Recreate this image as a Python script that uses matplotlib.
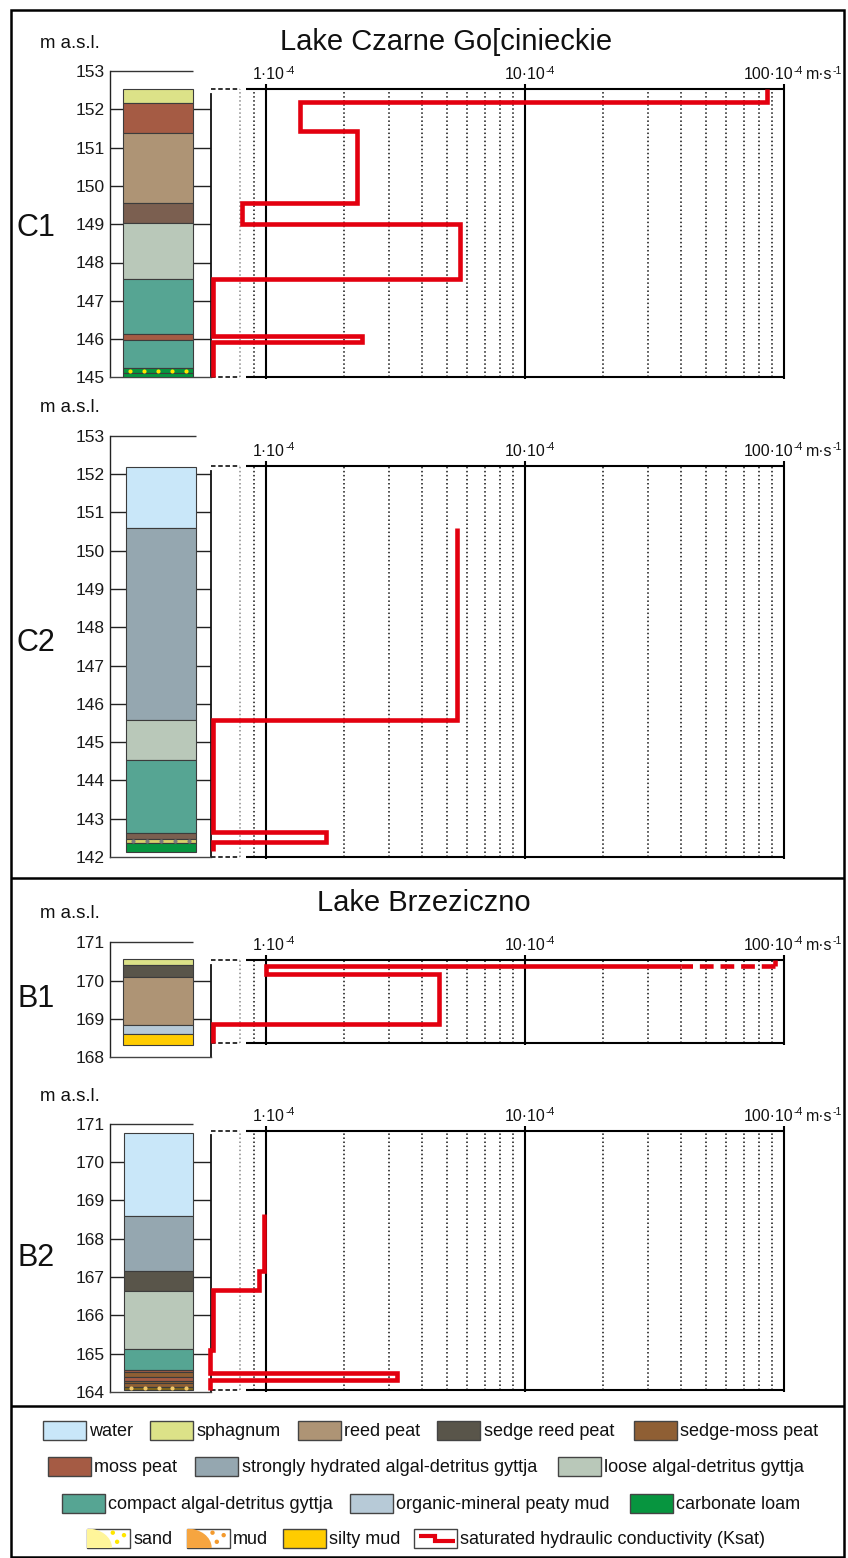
import numpy as np
import matplotlib
matplotlib.use('Agg')
import matplotlib.pyplot as plt
from matplotlib.patches import Rectangle, Ellipse, Circle

plt.rcParams['font.family'] = ['Liberation Sans', 'DejaVu Sans']

# ---------------- data ----------------
# lithology: boundaries (m a.s.l., top -> bottom) and type of each interval
C1_layer_bounds = [152.52, 152.16, 151.37, 149.55, 149.03, 147.57, 146.13, 145.98, 145.24, 145.11, 145.00]
C1_layer_types = ['sphagnum', 'moss peat', 'reed peat', 'dark peat', 'loose', 'compact',
                  'moss peat', 'compact', 'carbonate loam', 'carbonate loam']
C1_sand_lenses = [145.18]
# Ksat profile: depth boundaries and Ksat (x10^-4 m/s) of each interval
C1_ksat_depths = [152.52, 152.20, 151.44, 149.55, 149.00, 147.58, 146.09, 145.915, 145.00]
C1_ksat = [86.0, 1.36, 2.26, 0.815, 5.63, 0.625, 2.35, 0.625]

C2_layer_bounds = [152.17, 150.60, 145.59, 144.54, 142.63, 142.46, 142.36, 142.13]
C2_layer_types = ['water', 'strongly', 'loose', 'compact', 'dark peat', 'sand thin', 'carbonate loam']
C2_sand_lenses = [142.41]
C2_ksat_depths = [150.60, 145.57, 142.66, 142.38, 142.15]
C2_ksat = [5.47, 0.625, 1.71, 0.625]

B1_layer_bounds = [170.57, 170.40, 170.10, 168.83, 168.60, 168.33]
B1_layer_types = ['sphagnum', 'sedge reed', 'reed peat', 'organic-mineral', 'silty mud']
B1_sand_lenses = []
B1_ksat_depths = [170.54, 170.38, 170.16, 168.87, 168.37]
B1_ksat = [92.0, 1.0, 4.67, 0.625]
B1_ksat_dashed_to = 40.0

B2_layer_bounds = [170.76, 168.60, 167.15, 166.62, 165.13, 164.57, 164.51, 164.38, 164.29,
                   164.22, 164.13, 164.06]
B2_layer_types = ['water', 'strongly', 'sedge reed', 'loose', 'compact', 'moss peat', 'sedge-moss',
                  'moss peat', 'sedge-moss', 'sedge-moss', 'dark mud']
B2_sand_lenses = [164.095]
B2_ksat_depths = [168.63, 167.16, 166.66, 165.09, 164.49, 164.31, 164.04]
B2_ksat = [0.99, 0.94, 0.629, 0.611, 3.21, 0.611]

axis_ticks = [1, 10, 100]
# tick label pieces: (text, is_superscript)
axis_tick_labels = [
    [('1·10', False), ('-4', True)],
    [('10·10', False), ('-4', True)],
    [('100·10', False), ('-4', True), ('m·s', False), ('-1', True)],
]
minor_vals = [0.8, 0.9, 2, 3, 4, 5, 6, 7, 8, 9, 20, 30, 40, 50, 60, 70, 80, 90]

legend_rows = [
    ['water', 'sphagnum', 'reed peat', 'sedge reed peat', 'sedge-moss peat'],
    ['moss peat', 'strongly hydrated algal-detritus gyttja', 'loose algal-detritus gyttja'],
    ['compact algal-detritus gyttja', 'organic-mineral peaty mud', 'carbonate loam'],
    ['sand', 'mud', 'silty mud', 'saturated hydraulic conductivity (Ksat)'],
]

# ---------------- style ----------------
COLORS = {
    'water': '#C9E7F9', 'sphagnum': '#DCE288', 'reed peat': '#AE9475', 'sedge reed': '#59554A',
    'sedge-moss': '#8F5F34', 'moss peat': '#A55B44', 'strongly': '#95A7B0', 'loose': '#B9C8B9',
    'compact': '#56A593', 'organic-mineral': '#B7CAD7', 'carbonate loam': '#07953F',
    'sand': '#FFF59A', 'mud': '#F6A540', 'silty mud': '#FFCC00',
    'dark peat': '#7B5F50', 'sand thin': '#D8CF6C', 'dark mud': '#80661A',
}
LEG_COLORS = {
    'water': COLORS['water'], 'sphagnum': COLORS['sphagnum'], 'reed peat': COLORS['reed peat'],
    'sedge reed peat': COLORS['sedge reed'], 'sedge-moss peat': COLORS['sedge-moss'],
    'moss peat': COLORS['moss peat'], 'strongly hydrated algal-detritus gyttja': COLORS['strongly'],
    'loose algal-detritus gyttja': COLORS['loose'], 'compact algal-detritus gyttja': COLORS['compact'],
    'organic-mineral peaty mud': COLORS['organic-mineral'], 'carbonate loam': COLORS['carbonate loam'],
    'silty mud': COLORS['silty mud'],
}
RED = '#E3000F'
W, H = 848, 1558
PPM = 38.3
X_AX, X_SEP, X_END = 110, 211, 784
XMIN = 10 ** (-(265.5 - 211) / 259.25)

panels = [
    dict(label='C1', top_px=71.0, yr=(145, 153), col=(122.7, 192.7), rtop=152.4, box=(145.0, 152.52),
         lb=C1_layer_bounds, lt=C1_layer_types, dots=C1_sand_lenses, dotc='#FFE600',
         kd=C1_ksat_depths, kv=C1_ksat, dash=None, label_y=227.5, masl_y=47.7),
    dict(label='C2', top_px=435.7, yr=(142, 153), col=(126, 196), rtop=152.09, box=(142.0, 152.22),
         lb=C2_layer_bounds, lt=C2_layer_types, dots=C2_sand_lenses, dotc='#7a7a7a',
         kd=C2_ksat_depths, kv=C2_ksat, dash=None, label_y=643.3, masl_y=412.4),
    dict(label='B1', top_px=942.3, yr=(168, 171), col=(122.7, 193.3), rtop=170.41, box=(168.37, 170.54),
         lb=B1_layer_bounds, lt=B1_layer_types, dots=B1_sand_lenses, dotc='#FFE600',
         kd=B1_ksat_depths, kv=B1_ksat, dash=B1_ksat_dashed_to, label_y=998.7, masl_y=918.3),
    dict(label='B2', top_px=1123.7, yr=(164, 171), col=(124, 193.3), rtop=170.7, box=(164.04, 170.81),
         lb=B2_layer_bounds, lt=B2_layer_types, dots=B2_sand_lenses, dotc='#F2C96A',
         kd=B2_ksat_depths, kv=B2_ksat, dash=None, label_y=1258.0, masl_y=1100.7),
]
label_dx = [-12.5, -20.2, -40.5]

fig = plt.figure(figsize=(W / 100, H / 100), dpi=100)
axo = fig.add_axes([0, 0, 1, 1], zorder=0)
axo.set_xlim(0, W)
axo.set_ylim(H, 0)
axo.axis('off')


def rect(x0, x1, yt, yb):
    return [x0 / W, 1 - yb / H, (x1 - x0) / W, (yb - yt) / H]


def sup_label(ax, x, y, pieces, dx):
    base = ax.annotate(pieces[0][0], xy=(x, y), xytext=(dx, 10), textcoords='offset pixels',
                       ha='left', va='baseline', fontsize=11.5, annotation_clip=False, color='#111111')
    prev = base
    for txt, sup in pieces[1:]:
        if sup:
            t = ax.annotate(txt, xy=(1, 1), xycoords=(prev, base), xytext=(0.3, 1.5),
                            textcoords='offset pixels', ha='left', va='top', fontsize=7.5,
                            annotation_clip=False, color='#111111')
        else:
            t = ax.annotate(txt, xy=(1, 0), xycoords=(prev, base), xytext=(3, 0),
                            textcoords='offset pixels', ha='left', va='bottom', fontsize=11.5,
                            annotation_clip=False, color='#111111')
        prev = t


for p in panels:
    y0, y1 = p['yr']
    yt = p['top_px']
    yb = yt + (y1 - y0) * PPM
    # ---- lithology column ----
    axc = fig.add_axes(rect(X_AX, X_SEP, yt, yb), zorder=1)
    axc.set_xlim(0, 1)
    axc.set_ylim(y0, y1)
    axc.patch.set_visible(False)
    cl = (p['col'][0] - X_AX) / (X_SEP - X_AX)
    cr = (p['col'][1] - X_AX) / (X_SEP - X_AX)
    b = np.array(p['lb'])
    tops, bots = b[:-1], b[1:]
    axc.bar(np.full(len(tops), (cl + cr) / 2), tops - bots, bottom=bots, width=cr - cl,
            color=[COLORS[t] for t in p['lt']], edgecolor='#3c3c3c', linewidth=0.8, zorder=3)
    for yl in p['dots']:
        xd = np.linspace(cl + 0.07, cr - 0.07, 5)
        axc.scatter(xd, np.full(len(xd), yl), s=9, color=p['dotc'], zorder=4, linewidths=0)
    axc.spines['top'].set_visible(False)
    axc.spines['left'].set(linewidth=1.0, color='#222222')
    axc.spines['bottom'].set(linewidth=1.0, color='#444444')
    axc.spines['right'].set(linewidth=1.3, color='#111111')
    axc.spines['right'].set_bounds(y0, p['rtop'])
    ticks = np.arange(y0, y1 + 1)
    axc.set_yticks(ticks)
    axc.set_yticklabels([str(t) for t in ticks])
    axc.tick_params(axis='y', length=0, pad=3.6, labelsize=12.5, labelcolor='#1a1a1a')
    axc.set_xticks([])
    inner = ticks[(ticks > y0) & (ticks < y1)]
    axc.hlines(inner, 0, cl, color='#222222', lw=1.0, zorder=2)
    rt = inner[inner <= p['rtop']]
    axc.hlines(rt, cr, 1, color='#222222', lw=1.0, zorder=2)
    axc.hlines(y1, 0, cr, color='#333333', lw=1.0, clip_on=False)

    # ---- Ksat panel ----
    axk = fig.add_axes(rect(X_SEP, X_END, yt, yb), zorder=2)
    axk.set_xscale('log')
    axk.set_xlim(XMIN, 100)
    axk.set_ylim(y0, y1)
    axk.axis('off')
    bb, bt = p['box']
    axk.vlines(minor_vals, bb, bt, colors=['#8a8a8a' if v < 0.85 else '#111111' for v in minor_vals],
               linestyles=':', lw=1.1)
    axk.vlines(axis_ticks, bb - 2 / PPM, bt + 5 / PPM, colors='k', lw=1.5, clip_on=False)
    axk.hlines([bb, bt], 0.841, 100, colors='k', lw=1.5, clip_on=False)
    axk.hlines([bb, bt], XMIN, 0.8, colors='#222222', linestyles=(0, (2.5, 1.5)), lw=1.3, clip_on=False)
    for val, pieces, dx in zip(axis_ticks, axis_tick_labels, label_dx):
        sup_label(axk, val, bt, pieces, dx)
    # step profile
    kv = np.array(p['kv'])
    kd = np.array(p['kd'])
    xs = np.repeat(kv, 2)
    ys = np.empty(2 * len(kv))
    ys[0::2] = kd[:-1]
    ys[1::2] = kd[1:]
    lkw = dict(color=RED, lw=3.3, clip_on=False, solid_joinstyle='miter', solid_capstyle='butt', zorder=5)
    if p['dash'] is None:
        axk.plot(xs, ys, **lkw)
    else:
        axk.plot(xs[:2], ys[:2], **lkw)
        axk.plot([xs[1], p['dash']], [ys[1], ys[1]], color=RED, lw=3.3, clip_on=False,
                 linestyle=(0, (3.0, 1.5)), dash_capstyle='butt', zorder=5)
        axk.plot(np.r_[p['dash'], xs[2:]], np.r_[ys[1], ys[2:]], **lkw)

    axo.text(17, p['label_y'], p['label'], fontsize=22, ha='left', va='center', color='#111111')
    axo.text(40, p['masl_y'], 'm a.s.l.', fontsize=13.4, ha='left', va='baseline', color='#111111')

axo.text(446, 50, 'Lake Czarne Go[cinieckie', fontsize=21, ha='center', va='baseline', color='#111111')
axo.text(424, 911, 'Lake Brzeziczno', fontsize=21, ha='center', va='baseline', color='#111111')

# frame
axo.add_patch(Rectangle((11, 9.5), 832.8, 1547, fill=False, lw=1.8, ec='k'))
axo.hlines([878, 1406], 11, 843.8, colors='k', lw=1.8)

# legend
row_y = [1430, 1466.5, 1503, 1538]
row_x = [[42.5, 149.7, 298, 437, 634], [48, 195, 558], [61.5, 350, 630], [87, 186.7, 282.5, 413.7]]
BW, BH = 43, 19
for names, xs_, yc in zip(legend_rows, row_x, row_y):
    for name, x0 in zip(names, xs_):
        y0b = yc - BH / 2
        if name in LEG_COLORS:
            axo.add_patch(Rectangle((x0, y0b), BW, BH, fc=LEG_COLORS[name], ec='#444444', lw=1.0))
        else:
            box = Rectangle((x0, y0b), BW, BH, fc='white', ec='#444444', lw=1.0, zorder=3)
            axo.add_patch(box)
            if name in ('sand', 'mud'):
                col = COLORS[name]
                dotc = '#FFE600' if name == 'sand' else '#F39A2E'
                el = Ellipse((x0, y0b + BH), 2 * 0.58 * BW, 2 * BH, fc=col, ec='none', zorder=3)
                axo.add_patch(el)
                el.set_clip_path(box)
                for rx, ry in [(0.6, 0.22), (0.86, 0.35), (0.7, 0.7)]:
                    axo.add_patch(Circle((x0 + rx * BW, y0b + ry * BH), 2.2, fc=dotc, ec='none', zorder=4))
            else:
                axo.plot([x0 + 0.12 * BW, x0 + 0.5 * BW, x0 + 0.5 * BW, x0 + 0.96 * BW],
                         [y0b + 0.38 * BH, y0b + 0.38 * BH, y0b + 0.66 * BH, y0b + 0.66 * BH],
                         color=RED, lw=3.0, solid_joinstyle='miter', solid_capstyle='butt', zorder=4)
        axo.text(x0 + BW + 3.5, yc + 6, name, fontsize=13, ha='left', va='baseline', color='#111111')

fig.savefig('out.png', dpi=100)
